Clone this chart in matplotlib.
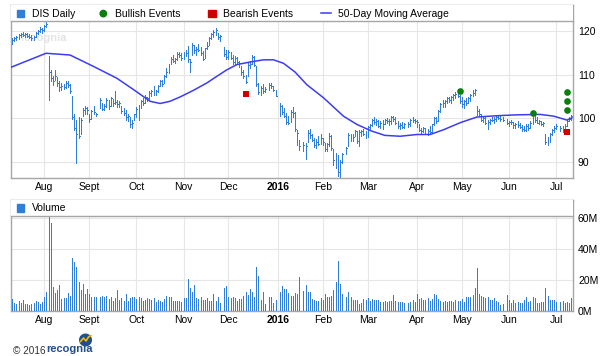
import matplotlib
matplotlib.use("Agg")
import matplotlib.pyplot as plt
import numpy as np
import pandas as pd
from matplotlib.patches import Rectangle, Circle

plt.rcParams["font.family"] = ["Liberation Sans", "DejaVu Sans"]

W, H = 607, 356
BLUE = "#2f7ed8"
MA_BLUE = "#3c3cf5"
GRID = "#e6e6e6"
FRAME = "#a6a6a6"

# one slot per weekday, holidays left empty (None)
DATES = pd.bdate_range("2015-07-13", "2016-07-12")
MONTH_LABELS = ["Aug", "Sept", "Oct", "Nov", "Dec", "2016",
                "Feb", "Mar", "Apr", "May", "Jun", "Jul"]

HIGH = [
    # Jul 2015
    118.3, 118.6, 118.8, 119.3, 119.6, 119.8, 119.5, 119.6, 119.3, 119.0, 118.9, 119.8, 120.3, 120.8, 120.6,
    # Aug
    121.4, 122.1, 114.2, 111.0, 109.6, 111.0, 109.4, 108.6, 108.0, 107.9, 108.6, 108.5, 107.8, 105.2, 101.0,
    99.7, 100.2, 100.0, 102.4, 102.9, 102.7,
    # Sep
    101.0, 101.9, 102.8, 101.2, None, 104.7, 103.6, 103.2, 104.6, 104.2, 105.0, 104.4, 106.2, 104.2, 104.0,
    102.8, 102.4, 102.0, 101.0, 100.4, 99.6, 101.1,
    # Oct
    102.6, 103.0, 104.2, 104.7, 105.4, 105.0, 106.2, 106.6, 107.3, 106.6, 107.6, 108.8, 108.7, 110.0, 111.5,
    112.4, 114.1, 114.5, 113.9, 115.1, 115.3, 114.9,
    # Nov
    115.2, 115.7, 116.5, 113.5, 117.2, 116.9, 116.3, 117.0, 116.4, 115.4, 116.2, 117.4, 118.6, 119.6, 120.2,
    120.6, 119.6, 119.0, None, 116.4, 115.6,
    # Dec
    115.6, 115.3, 114.4, 114.2, 114.0, 113.2, 112.0, 111.1, 110.0, 112.6, 113.2, 114.5, 114.2, 112.0, 108.0,
    107.4, 107.8, 107.2, None, 108.1, 108.1, 107.3, 106.6,
    # Jan 2016
    None, 103.6, 103.0, 102.4, 101.2, 100.5, 101.9, 102.6, 101.4, 97.4, 95.0, None, 94.6, 94.4, 97.4,
    97.5, 96.3, 95.6, 95.2, 95.9, 96.3,
    # Feb
    95.5, 94.3, 94.4, 96.7, 96.2, 93.0, 92.0, 91.6, 90.4, 92.0, None, 93.4, 96.7, 96.4, 96.5,
    97.4, 97.0, 97.3, 97.4, 97.5, 97.1,
    # Mar
    98.2, 98.6, 99.8, 100.2, 99.8, 99.6, 99.3, 99.6, 99.9, 100.1, 99.8, 100.5, 100.6, 100.4, 99.4,
    99.0, 99.1, 99.0, None, 99.2, 99.8, 100.4, 99.9,
    # Apr
    99.6, 98.6, 97.9, 98.0, 97.8, 97.5, 98.2, 98.8, 100.4, 100.2, 102.0, 103.5, 104.3, 104.1, 104.9,
    105.0, 105.1, 105.6, 106.0, 106.4, 105.4,
    # May
    105.0, 104.3, 104.7, 104.9, 105.6, 106.5, 106.8, 102.8, 102.2, 101.1, 100.6, 100.2, 99.6, 99.9, 100.4,
    100.3, 100.7, 100.8, 100.5, 100.2, None, 99.8,
    # Jun
    99.4, 99.6, 99.1, 99.0, 99.3, 98.9, 98.4, 98.2, 98.6, 98.7, 99.3, 100.9, 100.5, 100.2, 99.6,
    99.4, 99.2, 96.5, 95.8, 96.6, 97.6, 98.3,
    # Jul
    98.6, None, 98.3, 98.2, 98.6, 99.6, 100.3, 100.8,
]

LOW = [
    117.0, 117.6, 117.9, 118.2, 118.7, 118.8, 118.6, 118.7, 118.3, 118.0, 117.9, 118.6, 119.2, 119.7, 119.6,
    120.0, 120.8, 104.2, 108.6, 107.6, 108.8, 107.5, 106.3, 106.6, 106.8, 106.9, 107.2, 105.8, 99.8, 97.4,
    89.7, 95.6, 96.3, 100.6, 100.9, 101.1,
    99.2, 99.9, 101.0, 100.5, None, 102.3, 101.8, 102.0, 102.7, 102.2, 102.8, 102.9, 103.2, 102.7, 102.6,
    101.2, 100.8, 99.7, 99.4, 98.1, 97.7, 99.6,
    100.4, 99.7, 102.4, 103.0, 103.6, 103.9, 104.4, 105.1, 105.4, 105.3, 106.0, 107.3, 107.4, 108.2, 109.5,
    110.4, 112.4, 112.9, 112.6, 113.3, 114.0, 113.4,
    113.6, 114.3, 113.0, 110.7, 114.5, 115.0, 114.6, 115.4, 114.6, 113.4, 113.8, 115.8, 116.8, 118.1, 118.6,
    119.1, 118.2, 117.7, None, 114.3, 113.5,
    113.6, 113.5, 112.5, 112.4, 112.6, 111.8, 110.0, 109.3, 108.0, 109.8, 111.6, 112.4, 111.9, 107.3, 105.6,
    105.4, 105.8, 106.0, None, 106.6, 107.0, 106.2, 105.1,
    None, 100.6, 101.0, 100.2, 98.8, 98.6, 99.1, 100.4, 97.2, 94.0, 92.8, None, 92.6, 90.6, 94.5,
    95.6, 94.8, 93.4, 93.3, 93.8, 94.2,
    93.8, 92.5, 92.6, 93.7, 92.8, 89.3, 88.6, 86.8, 86.3, 89.7, None, 91.9, 93.6, 94.9, 94.8,
    95.9, 94.4, 93.7, 95.9, 96.1, 95.6,
    95.8, 97.4, 98.2, 98.7, 98.4, 98.0, 97.9, 97.5, 98.8, 98.9, 98.5, 98.7, 99.3, 98.6, 97.8,
    97.6, 97.9, 97.8, None, 98.1, 98.3, 99.1, 98.9,
    98.1, 97.2, 96.7, 96.9, 96.3, 96.2, 96.6, 96.7, 98.5, 99.0, 99.4, 101.5, 102.7, 102.6, 103.5,
    103.8, 103.6, 104.2, 104.7, 104.9, 103.6,
    102.7, 102.4, 103.1, 103.4, 104.0, 105.1, 105.4, 100.8, 100.6, 99.4, 99.2, 98.6, 97.6, 98.7, 99.3,
    99.0, 99.4, 99.8, 99.5, 99.4, None, 98.6,
    98.3, 98.6, 97.8, 97.9, 98.1, 97.8, 97.2, 97.0, 97.1, 97.4, 97.8, 98.8, 99.2, 98.9, 98.6,
    98.5, 98.2, 94.2, 93.9, 94.6, 96.2, 96.9,
    97.5, None, 97.2, 96.9, 97.4, 98.3, 99.3, 99.6,
]

CLOSE = [
    118.0, 118.3, 118.6, 119.1, 119.3, 119.0, 119.2, 118.9, 118.6, 118.4, 118.7, 119.6, 120.0, 120.5, 120.2,
    121.1, 121.7, 110.5, 109.2, 108.6, 109.8, 108.0, 107.2, 107.5, 107.2, 108.2, 107.6, 106.3, 100.4, 97.9,
    96.5, 96.0, 99.6, 102.0, 102.4, 101.9,
    99.8, 101.7, 101.4, 100.9, None, 104.2, 102.1, 102.9, 104.3, 102.8, 104.6, 103.5, 103.7, 103.2, 103.6,
    101.7, 101.2, 100.3, 100.6, 98.6, 98.9, 100.9,
    102.2, 102.8, 104.0, 103.6, 105.0, 104.7, 105.9, 106.2, 106.0, 106.3, 107.4, 108.5, 107.9, 109.8, 110.6,
    112.1, 113.7, 113.2, 113.5, 114.8, 114.5, 113.8,
    114.9, 115.0, 113.6, 112.8, 116.9, 115.6, 115.9, 115.7, 114.9, 113.7, 116.0, 116.6, 118.4, 119.3, 119.8,
    120.3, 118.6, 118.9, None, 114.8, 114.0,
    115.2, 113.9, 112.9, 113.8, 113.0, 112.6, 110.6, 109.8, 108.4, 112.2, 112.5, 114.0, 112.3, 107.8, 106.0,
    106.9, 106.3, 106.8, None, 107.6, 107.5, 106.4, 105.1,
    None, 102.9, 101.5, 100.6, 99.2, 99.0, 101.4, 101.2, 97.6, 96.6, 93.6, None, 93.9, 93.7, 96.7,
    96.2, 95.1, 94.0, 94.6, 94.2, 95.6,
    94.6, 93.0, 94.1, 95.9, 93.2, 90.5, 89.9, 87.6, 89.9, 91.8, None, 93.2, 96.1, 95.4, 95.8,
    97.1, 94.9, 96.8, 97.2, 96.4, 95.6,
    98.0, 98.4, 99.6, 99.1, 99.5, 98.3, 98.9, 98.6, 99.7, 99.4, 99.3, 100.3, 99.8, 98.9, 98.2,
    98.5, 98.1, 98.7, None, 98.6, 99.6, 99.6, 99.3,
    99.1, 97.4, 97.2, 97.8, 96.5, 97.0, 96.8, 98.6, 100.1, 99.3, 101.7, 103.2, 103.6, 103.9, 104.6,
    104.3, 104.8, 105.3, 105.6, 105.2, 104.0,
    103.2, 104.0, 103.6, 104.6, 105.3, 105.8, 106.6, 101.6, 101.0, 99.7, 100.0, 98.9, 99.2, 99.6, 99.6,
    99.8, 100.4, 100.1, 99.9, 99.7, None, 99.0,
    99.2, 99.1, 98.4, 98.7, 98.5, 98.1, 97.5, 97.3, 98.2, 97.9, 99.0, 100.3, 99.6, 99.0, 99.3,
    98.7, 99.0, 94.6, 94.3, 96.3, 97.3, 97.9,
    98.2, None, 97.8, 98.0, 98.2, 99.4, 99.8, 100.5,
]

# volume in millions of shares
VOLUME = [
    7.8, 5.0, 4.3, 6.7, 5.4, 7.1, 4.5, 4.5, 3.7, 4.5, 5.4, 6.5, 5.8, 4.8, 5.8,
    8.9, 12.5, 61.0, 57.2, 15.7, 11.4, 13.6, 16.8, 7.8, 8.2, 8.2, 11.9, 9.7, 34.1, 31.9,
    28.7, 19.0, 13.6, 17.5, 11.0, 14.2,
    11.0, 9.3, 9.3, 9.3, None, 9.3, 9.7, 9.3, 9.7, 8.0, 9.3, 6.5, 8.2, 13.6, 7.1,
    8.6, 6.5, 10.8, 6.5, 8.2, 9.3, 8.8,
    7.8, 9.3, 8.2, 6.5, 7.1, 8.2, 7.8, 7.1, 8.6, 5.6, 7.1, 6.5, 6.0, 7.8, 9.7,
    9.3, 9.3, 6.7, 6.7, 6.7, 6.7, 6.0,
    8.6, 8.2, 20.6, 15.0, 12.5, 16.6, 8.6, 7.5, 8.8, 7.1, 7.1, 8.2, 6.5, 6.5, 10.8,
    6.5, 9.3, 5.0, None, 15.0, 16.1,
    9.3, 8.2, 9.3, 8.2, 6.5, 7.5, 7.5, 9.7, 12.5, 10.4, 14.0, 12.5, 9.3, 28.6, 22.6,
    7.1, 12.5, 4.5, None, 9.3, 9.3, 5.4, 7.1,
    None, 12.5, 16.1, 14.0, 14.4, 11.4, 9.9, 9.7, 11.4, 11.0, 22.0, None, 13.0, 16.8, 12.3,
    12.3, 7.8, 7.1, 6.5, 6.7, 8.4,
    7.1, 11.0, 8.9, 9.3, 9.7, 13.6, 18.8, 32.4, 17.5, 11.0, None, 9.3, 12.3, 9.3, 7.1,
    7.1, 7.1, 4.5, 5.4, 7.8, 7.1,
    8.4, 6.7, 7.5, 7.1, 7.1, 7.1, 5.6, 5.8, 6.3, 5.8, 6.3, 6.7, 10.4, 6.7, 5.8,
    5.6, 5.6, 5.0, None, 5.4, 5.6, 7.1, 6.0,
    11.0, 7.5, 8.2, 7.1, 7.1, 8.2, 6.7, 7.5, 10.8, 10.4, 7.5, 6.7, 6.0, 6.5, 5.8,
    6.7, 6.3, 6.0, 7.1, 6.3, 6.7,
    7.5, 5.6, 8.8, 9.3, 9.3, 10.4, 15.0, 27.6, 11.0, 9.7, 8.8, 8.4, 9.3, 7.1, 7.1,
    8.2, 6.5, 5.6, 3.9, 4.5, None, 10.4,
    7.1, 5.0, 7.1, 5.4, 5.8, 5.4, 5.4, 7.1, 8.8, 6.0, 6.5, 8.8, 8.2, 5.4, 5.0,
    5.8, 5.8, 15.0, 9.9, 7.1, 7.1, 7.1,
    5.8, None, 6.0, 6.7, 5.0, 5.8, 5.4, 8.4,
]

# 50-day moving average, read at points along the curve (slot, price)
MA_SLOT = [-0.5, 15.8, 27.0, 37.9, 48.8, 56.6, 64.4, 69.1, 73.7, 78.4, 84.6, 90.9, 95.5,
           100.2, 104.9, 111.1, 117.4, 122.0, 126.7, 132.1, 137.6, 145.4, 154.7, 161.0,
           167.8, 174.0, 181.2, 189.0, 195.2, 201.5, 209.2, 217.0, 226.4, 235.7, 246.6,
           252.9, 259.1, 261.4]
MA_VALUE = [111.7, 114.9, 114.5, 111.9, 109.2, 106.6, 103.9, 103.4, 103.9, 104.9, 106.4, 108.1,
            109.6, 111.1, 112.3, 112.9, 113.4, 113.4, 112.6, 110.6, 107.7, 104.7, 100.5, 98.6,
            97.1, 96.1, 95.9, 96.3, 96.3, 97.4, 99.0, 100.3, 100.6, 100.8, 100.9, 100.5,
            99.6, 100.1]

BULL_DATES = ["2016-04-29", "2016-06-16", "2016-07-08", "2016-07-08", "2016-07-08"]
BULL_Y = [106.2, 101.2, 106.0, 103.9, 101.8]
BEAR_DATES = ["2015-12-11", "2016-07-08"]
BEAR_Y = [105.5, 96.8]


def px_rect(x0, y0, x1, y1):
    # pixel box (top-left origin) -> figure fraction [l, b, w, h]
    return [x0 / W, 1 - y1 / H, (x1 - x0) / W, (y1 - y0) / H]


def style_panel(ax, strip_px, height_px):
    for s in ax.spines.values():
        s.set_color(FRAME)
        s.set_linewidth(1.0)
    ax.grid(True, color=GRID, linewidth=0.8)
    ax.set_axisbelow(True)
    ax.yaxis.tick_right()
    ax.tick_params(length=0, labelsize=7.5, colors="black")
    ax.tick_params(axis="y", pad=3.6)
    ax.tick_params(axis="x", pad=3.0)
    frac = strip_px / height_px
    ax.add_patch(Rectangle((0, 1 - frac), 1, frac, transform=ax.transAxes,
                           facecolor="white", edgecolor="none", zorder=6))
    ax.plot([0, 1], [1 - frac, 1 - frac], transform=ax.transAxes, color=FRAME,
            linewidth=1.0, zorder=7, clip_on=False)


def main():
    high = np.array(HIGH, dtype=float)
    low = np.array(LOW, dtype=float)
    close = np.array(CLOSE, dtype=float)
    vol = np.array(VOLUME, dtype=float)
    n = len(DATES)
    assert len(high) == len(low) == len(close) == len(vol) == n
    x = np.arange(n)

    month_pos = [i for i in range(1, n) if DATES[i].month != DATES[i - 1].month]
    slot = {d: i for i, d in enumerate(DATES)}
    bull_x = [slot[pd.Timestamp(d)] for d in BULL_DATES]
    bear_x = [slot[pd.Timestamp(d)] for d in BEAR_DATES]
    xlim = (-0.56, 261.9)

    fig = plt.figure(figsize=(W / 100, H / 100), dpi=100)

    # price panel
    ax = fig.add_axes(px_rect(11, 5, 573, 178))
    ax.set_xlim(*xlim)
    ax.set_ylim(86.34, 125.95)
    ax.text(0.016, 0.79, "recognia", transform=ax.transAxes, fontsize=8,
            fontweight="bold", color="#e4e4e4", zorder=1)
    ax.vlines(x, low, high, color=BLUE, linewidth=0.55, antialiased=False, zorder=3)
    ax.hlines(close, x, x + 0.45, color=BLUE, linewidth=0.55, antialiased=False, zorder=3)
    ax.plot(MA_SLOT, MA_VALUE, color=MA_BLUE, linewidth=1.1, zorder=4)
    ax.plot(bull_x, BULL_Y, "o", color="#0a7f0a", markersize=4.8, markeredgewidth=0, zorder=5)
    ax.plot(bear_x, BEAR_Y, "s", color="#d00000", markersize=5.0, markeredgewidth=0, zorder=5)
    ax.set_yticks([90, 100, 110, 120])
    ax.set_xticks(month_pos)
    ax.set_xticklabels(MONTH_LABELS)
    style_panel(ax, 16, 173)

    # volume panel
    axv = fig.add_axes(px_rect(11, 200, 573, 311))
    axv.set_xlim(*xlim)
    axv.set_ylim(0, 71.8)
    axv.vlines(x, 0, vol, color=BLUE, linewidth=0.55, antialiased=False, zorder=3)
    axv.set_yticks([0, 20, 40, 60])
    axv.set_yticklabels(["0M", "20M", "40M", "60M"])
    axv.set_xticks(month_pos)
    axv.set_xticklabels(MONTH_LABELS)
    style_panel(axv, 15.7, 111)

    for a in (ax, axv):
        a.get_xticklabels()[MONTH_LABELS.index("2016")].set_fontweight("bold")

    # legends and footer drawn in pixel space
    ov = fig.add_axes([0, 0, 1, 1])
    ov.set_xlim(0, W)
    ov.set_ylim(H, 0)
    ov.axis("off")
    ov.patch.set_alpha(0)

    ov.add_patch(Rectangle((16.7, 9.8), 7.6, 7.6, color=BLUE))
    ov.text(32.3, 16.8, "DIS Daily", fontsize=7.5, va="baseline")
    ov.add_patch(Circle((103.3, 13.6), 3.2, color="#0a7f0a"))
    ov.text(115.0, 16.8, "Bullish Events", fontsize=7.5, va="baseline")
    ov.add_patch(Rectangle((208.3, 9.8), 7.6, 7.6, color="#d00000"))
    ov.text(223.3, 16.8, "Bearish Events", fontsize=7.5, va="baseline")
    ov.plot([321, 331], [13.4, 13.4], color=MA_BLUE, linewidth=1.1)
    ov.text(337.7, 16.8, "50-Day Moving Average", fontsize=7.5, va="baseline")

    ov.add_patch(Rectangle((16.7, 204.0), 7.6, 7.6, color=BLUE))
    ov.text(32.3, 211.3, "Volume", fontsize=7.5, va="baseline")

    ov.text(13.3, 353.5, "\u00a9 2016", fontsize=7.2, color="#333333", va="baseline")
    ov.add_patch(Circle((85.5, 340.0), 5.8, color="#1f4f8d"))
    ov.plot([80.5, 83.5, 86.0, 88.5, 91.0], [341.5, 338.0, 341.0, 337.0, 335.5],
            color="#f2b705", linewidth=1.2)
    ov.text(46.7, 352.5, "recognia", fontsize=8, fontweight="bold", color="#1f4f8d",
            va="baseline")

    fig.savefig("out.png", dpi=100, facecolor="white")
    plt.close(fig)


if __name__ == "__main__":
    main()
